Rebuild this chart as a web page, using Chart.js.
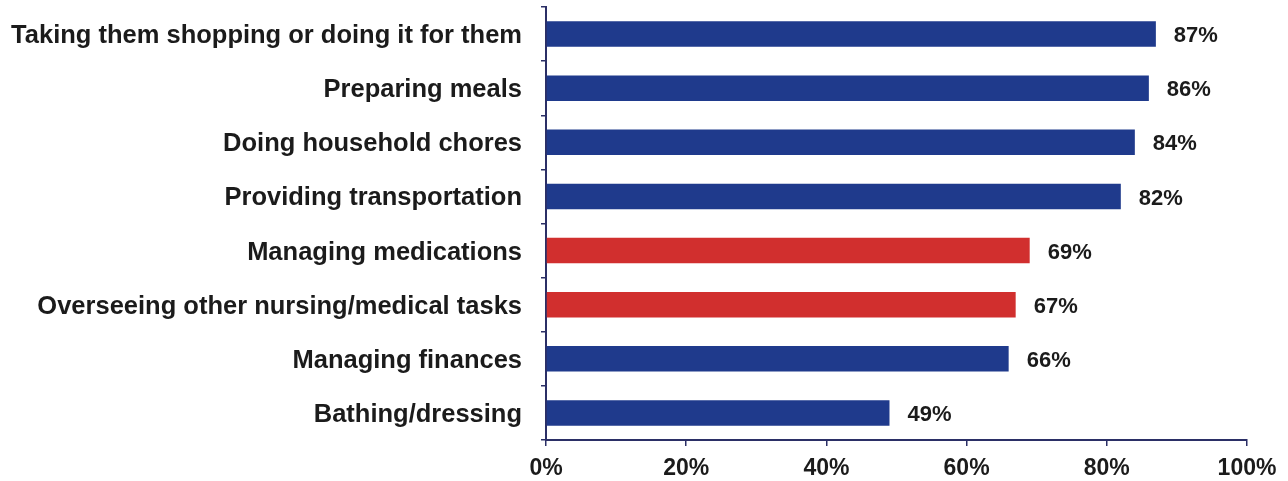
<!DOCTYPE html>
<html>
<head>
<meta charset="utf-8">
<script src="https://cdn.jsdelivr.net/npm/chart.js@4.4.1/dist/chart.umd.min.js"></script>
<style>
  html, body { margin: 0; padding: 0; background: #fff; }
  #wrap { width: 1288px; height: 481px; position: relative; }
</style>
</head>
<body>
<div id="wrap"><canvas id="tasksChart"></canvas></div>
<script>
const tasks = [
    'Taking them shopping or doing it for them',
    'Preparing meals',
    'Doing household chores',
    'Providing transportation',
    'Managing medications',
    'Overseeing other nursing/medical tasks',
    'Managing finances',
    'Bathing/dressing'
];
const shares = [87, 86, 84, 82, 69, 67, 66, 49];
const highlighted = [false, false, false, false, true, true, false, false];
const xTicks = [0, 20, 40, 60, 80, 100];

const BLUE = '#1f3a8c';
const RED = '#d12f2e';
const AXIS = '#2b2f66';
const TEXT = '#1b1b1b';
const FONT = '"Liberation Sans", Arial, sans-serif';

// Percentage printed just past the end of each bar
const valueLabels = {
    id: 'valueLabels',
    afterDatasetsDraw(chart) {
        const ctx = chart.ctx;
        const meta = chart.getDatasetMeta(0);
        ctx.save();
        ctx.font = 'bold 22px ' + FONT;
        ctx.fillStyle = TEXT;
        ctx.textAlign = 'left';
        ctx.textBaseline = 'middle';
        meta.data.forEach((bar, i) => {
            ctx.fillText(shares[i] + '%', bar.x + 18, bar.y + 2);
        });
        ctx.restore();
    }
};

new Chart(document.getElementById('tasksChart'), {
    type: 'bar',
    data: {
        labels: tasks,
        datasets: [{
            data: shares,
            backgroundColor: highlighted.map(h => h ? RED : BLUE),
            borderWidth: 0,
            barPercentage: 0.47,
            categoryPercentage: 1
        }]
    },
    options: {
        indexAxis: 'y',
        responsive: true,
        maintainAspectRatio: false,
        animation: false,
        layout: { padding: { top: 7, right: 41, left: 0, bottom: 0 } },
        plugins: {
            legend: { display: false },
            tooltip: { enabled: false }
        },
        scales: {
            x: {
                min: 0,
                max: 100,
                afterBuildTicks: (scale) => { scale.ticks = xTicks.map(v => ({ value: v })); },
                afterFit: (scale) => { scale.height = 41; },
                border: { color: AXIS, width: 2 },
                grid: { drawOnChartArea: false, color: AXIS, tickLength: 6, lineWidth: 1.5 },
                ticks: {
                    color: TEXT,
                    padding: 9,
                    font: { family: FONT, size: 23, weight: 'bold' },
                    callback: (v) => v + '%'
                }
            },
            y: {
                afterFit: (scale) => {
                    scale.width = 546;
                    scale.paddingTop = 0;
                    scale.paddingBottom = 0;
                },
                border: { color: AXIS, width: 2 },
                grid: { drawOnChartArea: false, color: AXIS, tickLength: 5, lineWidth: 1.5, offset: true },
                ticks: {
                    color: TEXT,
                    padding: 19,
                    labelOffset: 2,
                    font: { family: FONT, size: 25.5, weight: 'bold' }
                }
            }
        }
    },
    plugins: [valueLabels]
});
</script>
</body>
</html>
